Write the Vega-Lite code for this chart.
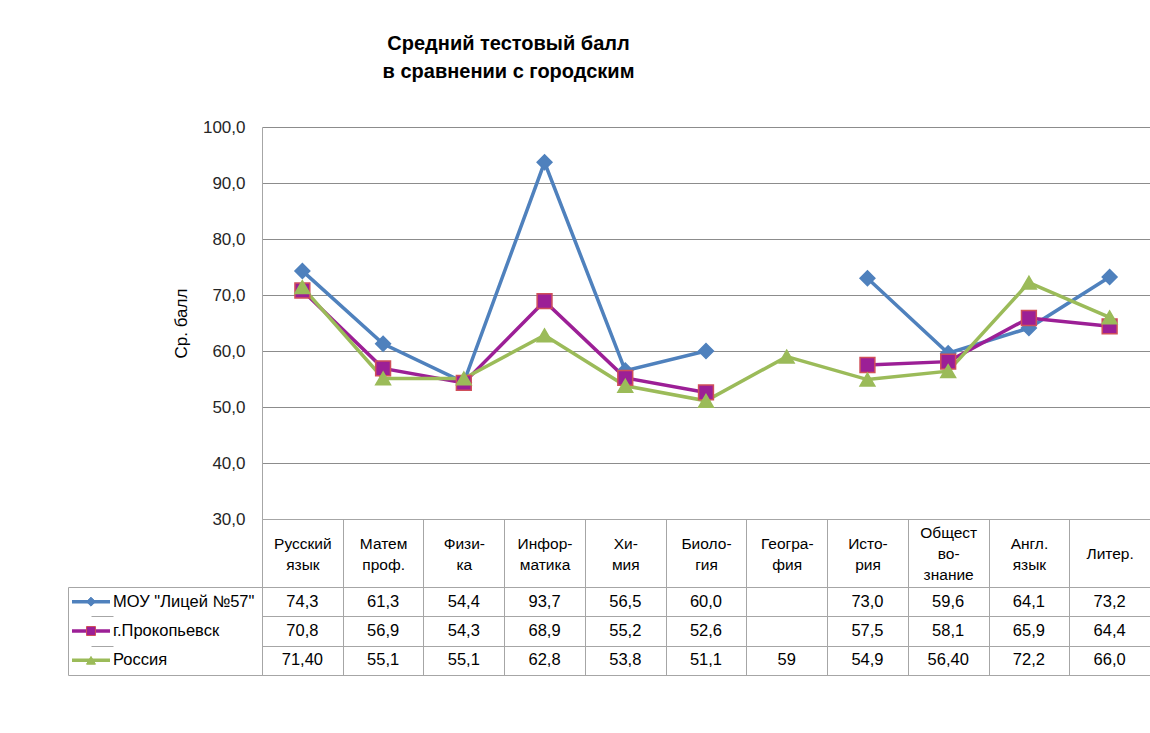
{
  "$schema": "https://vega.github.io/schema/vega-lite/v6.json",
  "background": "white",
  "padding": {"left": 64, "top": 34, "right": 0, "bottom": 0},
  "config": {
    "font": "Liberation Sans",
    "view": {"stroke": null},
    "axis": {"labelFont": "Liberation Sans", "titleFont": "Liberation Sans"}
  },
  "title": {
    "text": ["Средний тестовый балл", "в сравнении с  городским"],
    "anchor": "middle",
    "dx": -99,
    "fontSize": 20,
    "fontWeight": "bold",
    "lineHeight": 28,
    "color": "#000000",
    "offset": 36
  },
  "datasets": {
    "scores": [
      {"subj": "Русский\nязык", "series": "МОУ \"Лицей №57\"", "value": 74.3, "label": "74,3"},
      {"subj": "Матем\nпроф.", "series": "МОУ \"Лицей №57\"", "value": 61.3, "label": "61,3"},
      {"subj": "Физи-\nка", "series": "МОУ \"Лицей №57\"", "value": 54.4, "label": "54,4"},
      {"subj": "Инфор-\nматика", "series": "МОУ \"Лицей №57\"", "value": 93.7, "label": "93,7"},
      {"subj": "Хи-\nмия", "series": "МОУ \"Лицей №57\"", "value": 56.5, "label": "56,5"},
      {"subj": "Биоло-\nгия", "series": "МОУ \"Лицей №57\"", "value": 60.0, "label": "60,0"},
      {"subj": "Геогра-\nфия", "series": "МОУ \"Лицей №57\"", "value": null, "label": ""},
      {"subj": "Исто-\nрия", "series": "МОУ \"Лицей №57\"", "value": 73.0, "label": "73,0"},
      {"subj": "Общест\nво-\nзнание", "series": "МОУ \"Лицей №57\"", "value": 59.6, "label": "59,6"},
      {"subj": "Англ.\nязык", "series": "МОУ \"Лицей №57\"", "value": 64.1, "label": "64,1"},
      {"subj": "Литер.", "series": "МОУ \"Лицей №57\"", "value": 73.2, "label": "73,2"},
      {"subj": "Русский\nязык", "series": "г.Прокопьевск", "value": 70.8, "label": "70,8"},
      {"subj": "Матем\nпроф.", "series": "г.Прокопьевск", "value": 56.9, "label": "56,9"},
      {"subj": "Физи-\nка", "series": "г.Прокопьевск", "value": 54.3, "label": "54,3"},
      {"subj": "Инфор-\nматика", "series": "г.Прокопьевск", "value": 68.9, "label": "68,9"},
      {"subj": "Хи-\nмия", "series": "г.Прокопьевск", "value": 55.2, "label": "55,2"},
      {"subj": "Биоло-\nгия", "series": "г.Прокопьевск", "value": 52.6, "label": "52,6"},
      {"subj": "Геогра-\nфия", "series": "г.Прокопьевск", "value": null, "label": ""},
      {"subj": "Исто-\nрия", "series": "г.Прокопьевск", "value": 57.5, "label": "57,5"},
      {"subj": "Общест\nво-\nзнание", "series": "г.Прокопьевск", "value": 58.1, "label": "58,1"},
      {"subj": "Англ.\nязык", "series": "г.Прокопьевск", "value": 65.9, "label": "65,9"},
      {"subj": "Литер.", "series": "г.Прокопьевск", "value": 64.4, "label": "64,4"},
      {"subj": "Русский\nязык", "series": "Россия", "value": 71.4, "label": "71,40"},
      {"subj": "Матем\nпроф.", "series": "Россия", "value": 55.1, "label": "55,1"},
      {"subj": "Физи-\nка", "series": "Россия", "value": 55.1, "label": "55,1"},
      {"subj": "Инфор-\nматика", "series": "Россия", "value": 62.8, "label": "62,8"},
      {"subj": "Хи-\nмия", "series": "Россия", "value": 53.8, "label": "53,8"},
      {"subj": "Биоло-\nгия", "series": "Россия", "value": 51.1, "label": "51,1"},
      {"subj": "Геогра-\nфия", "series": "Россия", "value": 59, "label": "59"},
      {"subj": "Исто-\nрия", "series": "Россия", "value": 54.9, "label": "54,9"},
      {"subj": "Общест\nво-\nзнание", "series": "Россия", "value": 56.4, "label": "56,40"},
      {"subj": "Англ.\nязык", "series": "Россия", "value": 72.2, "label": "72,2"},
      {"subj": "Литер.", "series": "Россия", "value": 66.0, "label": "66,0"}
    ],
    "series": [
      {"series": "МОУ \"Лицей №57\""},
      {"series": "г.Прокопьевск"},
      {"series": "Россия"}
    ]
  },
  "columns": 2,
  "spacing": {"row": 68, "column": 0},
  "bounds": "flush",
  "resolve": {"scale": {"x": "independent", "y": "independent"}},
  "concat": [
    {
      "width": 194,
      "height": 392,
      "data": {"values": [{}]},
      "mark": {"type": "point", "opacity": 0}
    },
    {
      "width": 888,
      "height": 392,
      "data": {"name": "scores"},
      "encoding": {
        "x": {
          "field": "subj", "type": "nominal", "sort": null,
          "scale": {"type": "band", "paddingInner": 0, "paddingOuter": 0,
            "domain": ["Русский\nязык", "Матем\nпроф.", "Физи-\nка", "Инфор-\nматика", "Хи-\nмия", "Биоло-\nгия", "Геогра-\nфия", "Исто-\nрия", "Общест\nво-\nзнание", "Англ.\nязык", "Литер."]},
          "axis": {
            "title": null, "labelAngle": 0,
            "labelExpr": "split(datum.label, '\\n')",
            "labelLineHeight": 21,
            "labelBaseline": {
              "condition": [
                {"test": "length(split(datum.value, '\\n')) == 3", "value": "line-bottom"},
                {"test": "length(split(datum.value, '\\n')) == 1", "value": "line-top"}
              ],
              "value": "middle"
            },
            "labelFontSize": 15.5,
            "labelColor": "#000000", "labelPadding": -43.5,
            "tickBand": "extent",
            "tickSize": 68, "tickColor": "#a6a6a6", "domainColor": "#a6a6a6", "grid": false
          }
        },
        "y": {
          "field": "value", "type": "quantitative",
          "scale": {"domain": [30, 100], "nice": false, "zero": false},
          "axis": {
            "values": [30, 40, 50, 60, 70, 80, 90, 100],
            "labelExpr": "replace(format(datum.value, '.1f'), '.', ',')",
            "title": "Ср. балл", "titleFontSize": 17, "titleFontWeight": "normal", "titleColor": "#000000",
            "titlePadding": 12, "grid": true, "gridColor": "#8c8c8c", "ticks": false,
            "domainColor": "#a6a6a6", "labelFontSize": 17, "labelColor": "#262626", "labelPadding": 17
          }
        },
        "color": {
          "field": "series", "type": "nominal",
          "scale": {"domain": ["МОУ \"Лицей №57\"", "г.Прокопьевск", "Россия"], "range": ["#4f81bd", "#9c1f96", "#9bbb59"]},
          "legend": null
        }
      },
      "layer": [
        {"mark": {"type": "line", "strokeWidth": 3.5, "invalid": "break-paths-show-domains"}},
        {
          "mark": {"type": "point", "filled": true, "opacity": 1, "size": 220, "strokeWidth": 1.5},
          "encoding": {
            "shape": {"field": "series", "type": "nominal", "scale": {"domain": ["МОУ \"Лицей №57\"", "г.Прокопьевск", "Россия"], "range": ["diamond", "square", "triangle-up"]}, "legend": null},
            "stroke": {"field": "series", "type": "nominal", "scale": {"domain": ["МОУ \"Лицей №57\"", "г.Прокопьевск", "Россия"], "range": ["#4f81bd", "#d0505a", "#9bbb59"]}, "legend": null}
          }
        }
      ]
    },
    {
      "width": 194,
      "height": 88,
      "data": {"name": "series"},
      "view": {"stroke": "#a6a6a6"},
      "encoding": {
        "y": {
          "field": "series", "type": "nominal", "sort": null,
          "scale": {"domain": ["МОУ \"Лицей №57\"", "г.Прокопьевск", "Россия"], "paddingInner": 0, "paddingOuter": 0},
          "axis": {"title": null, "labels": false, "ticks": false, "domain": false, "grid": true, "tickBand": "extent", "gridColor": "#a6a6a6"}
        }
      },
      "layer": [
        {
          "mark": {"type": "point", "shape": "stroke", "size": 1444, "strokeWidth": 3.5, "filled": false, "opacity": 1},
          "encoding": {
            "x": {"datum": "s", "type": "nominal", "scale": {"type": "point", "domain": ["s", "t"], "range": [23, 45], "padding": 0}, "axis": null},
            "color": {"field": "series", "type": "nominal", "legend": null}
          }
        },
        {
          "mark": {"type": "point", "filled": true, "opacity": 1, "size": 80, "strokeWidth": 1},
          "encoding": {
            "x": {"datum": "s", "type": "nominal"},
            "color": {"field": "series", "type": "nominal", "legend": null},
            "shape": {"field": "series", "type": "nominal", "legend": null},
            "stroke": {"field": "series", "type": "nominal", "legend": null}
          }
        },
        {
          "mark": {"type": "text", "align": "left", "baseline": "middle", "fontSize": 16.5, "color": "#000000"},
          "encoding": {
            "x": {"datum": "t", "type": "nominal"},
            "text": {"field": "series"}
          }
        }
      ]
    },
    {
      "width": 888,
      "height": 88,
      "data": {"name": "scores"},
      "view": {"stroke": "#a6a6a6"},
      "mark": {"type": "text", "fontSize": 16.5, "color": "#000000"},
      "encoding": {
        "x": {
          "field": "subj", "type": "nominal", "sort": null,
          "scale": {"type": "band", "paddingInner": 0, "paddingOuter": 0,
            "domain": ["Русский\nязык", "Матем\nпроф.", "Физи-\nка", "Инфор-\nматика", "Хи-\nмия", "Биоло-\nгия", "Геогра-\nфия", "Исто-\nрия", "Общест\nво-\nзнание", "Англ.\nязык", "Литер."]},
          "axis": {"title": null, "labels": false, "ticks": false, "domain": false, "grid": true, "tickBand": "extent", "gridColor": "#a6a6a6"}
        },
        "y": {
          "field": "series", "type": "nominal", "sort": null,
          "scale": {"domain": ["МОУ \"Лицей №57\"", "г.Прокопьевск", "Россия"], "paddingInner": 0, "paddingOuter": 0},
          "axis": {"title": null, "labels": false, "ticks": false, "domain": false, "grid": true, "tickBand": "extent", "gridColor": "#a6a6a6"}
        },
        "text": {"field": "label"}
      }
    }
  ]
}
